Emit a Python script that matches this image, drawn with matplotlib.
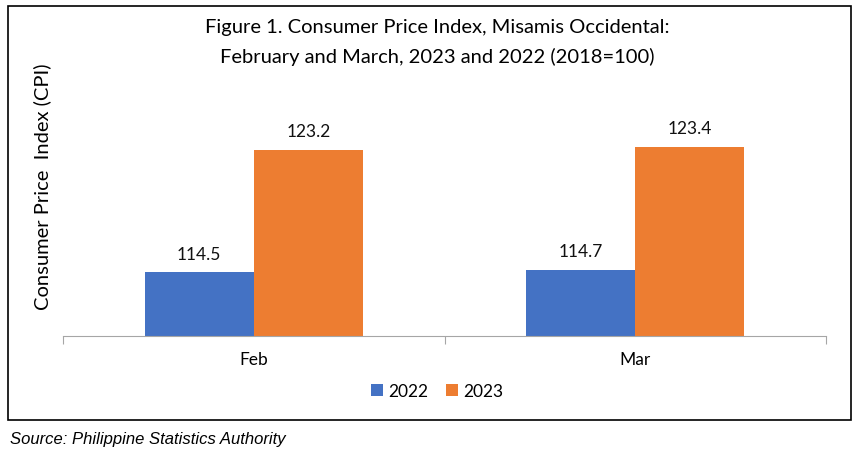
import numpy as np
import matplotlib.pyplot as plt
from matplotlib.patches import Rectangle

# --- data
months = ['Feb', 'Mar']
cpi_2022 = [114.5, 114.7]
cpi_2023 = [123.2, 123.4]
years = ['2022', '2023']
colors = ['#4472C4', '#ED7D31']

plt.rcParams['font.family'] = ['Lato', 'DejaVu Sans']

W, H = 866, 452
fig = plt.figure(figsize=(W / 100, H / 100), dpi=100)

# chart border
fig.patches.append(Rectangle((8 / W, 1 - 421 / H), 843 / W, 414 / H,
                             transform=fig.transFigure, fill=False,
                             edgecolor='black', linewidth=1.2))

ax = fig.add_axes([63 / W, 1 - 337 / H, 763 / W, 226 / H])
x = np.arange(len(months))
w = 0.286
b1 = ax.bar(x - w / 2, cpi_2022, w, color=colors[0], label=years[0])
b2 = ax.bar(x + w / 2, cpi_2023, w, color=colors[1], label=years[1])

for bars in (b1, b2):
    for r in bars:
        ax.text(r.get_x() + r.get_width() / 2, r.get_height() + 0.75,
                '{:.1f}'.format(r.get_height()), ha='center', va='bottom',
                fontsize=12.5, color='#111111')

ax.set_xlim(-0.5, 1.5)
ax.set_ylim(110, 126)
ax.set_yticks([])
for s in ['top', 'right', 'left']:
    ax.spines[s].set_visible(False)
ax.spines['bottom'].set_color('#A6A6A6')
ax.set_xticks([-0.5, 0.5, 1.5], minor=False)
ax.set_xticklabels([])
ax.tick_params(axis='x', length=6, color='#A6A6A6')
for xi, m in zip(x, months):
    ax.text(xi, -0.1, m, transform=ax.get_xaxis_transform(),
            ha='center', va='center', fontsize=12.5)

fig.text(437 / W, 1 - 28 / H, 'Figure 1. Consumer Price Index, Misamis Occidental:',
         ha='center', va='center', fontsize=14.5)
fig.text(437 / W, 1 - 57 / H, 'February and March, 2023 and 2022 (2018=100)',
         ha='center', va='center', fontsize=14.5)
fig.text(42 / W, 1 - 187 / H, 'Consumer Price  Index (CPI)', rotation=90,
         ha='center', va='center', fontsize=14.5)

fig.legend(handles=[b1, b2], labels=years, loc='center',
           bbox_to_anchor=(437 / W, 1 - 392 / H), ncol=2, frameon=False,
           fontsize=12.5, handlelength=0.7, handleheight=0.7,
           handletextpad=0.3, columnspacing=1.0)

fig.text(10 / W, 1 - 440 / H, 'Source: Philippine Statistics Authority',
         ha='left', va='center', fontsize=12, style='italic',
         family=['Liberation Sans Narrow', 'Liberation Sans', 'DejaVu Sans'])

fig.savefig('out.png', dpi=100)
